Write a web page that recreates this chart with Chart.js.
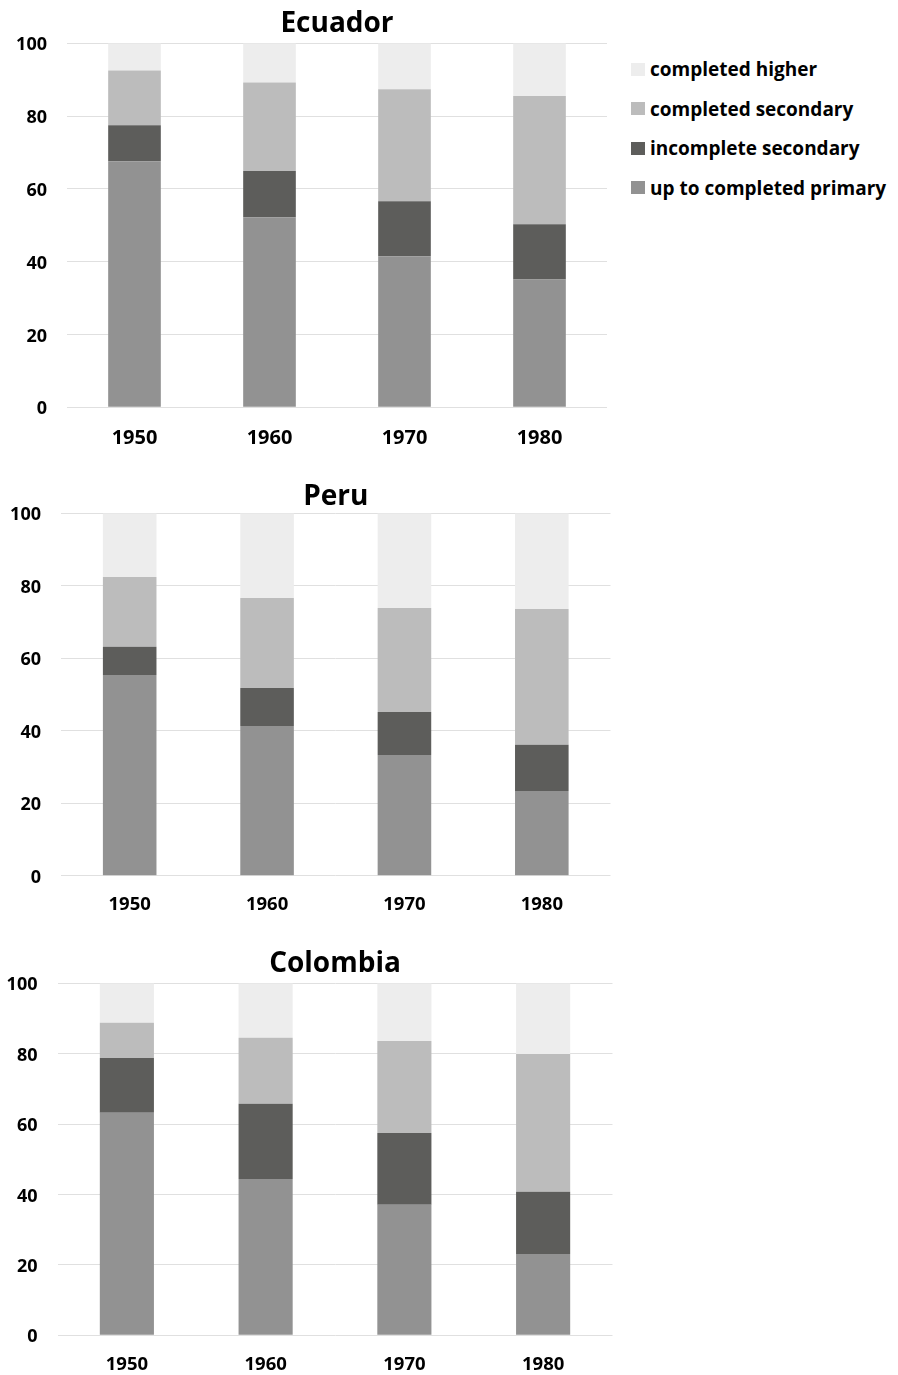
<!DOCTYPE html>
<html>
<head>
<meta charset="utf-8">
<title>Educational attainment</title>
<script src="https://cdn.jsdelivr.net/npm/chart.js@4.4.1/dist/chart.umd.min.js"></script>
<style>
  body { margin: 0; background: #fff; font-family: "Open Sans", sans-serif; }
  #page { position: relative; width: 898px; height: 1375px; overflow: hidden; }
  canvas { position: absolute; left: 0; }
  #legend { position: absolute; left: 631px; top: 0; }
  .item { position: absolute; left: 0; height: 20px; display: flex; align-items: center; white-space: nowrap;
          font-weight: 700; font-size: 19px; color: #000; }
  .box { width: 14px; height: 13px; margin-right: 5px; }
</style>
</head>
<body>
<div id="page">
  <canvas id="ecuador" width="620" height="460" style="top:0"></canvas>
  <canvas id="peru" width="620" height="450" style="top:470px"></canvas>
  <canvas id="colombia" width="620" height="445" style="top:930px"></canvas>
  <div id="legend"></div>
</div>
<script>
// --- data (percent of population by education level)
const years = ['1950', '1960', '1970', '1980'];
const yTicks = [0, 20, 40, 60, 80, 100];

const seriesNames = ['up to completed primary', 'incomplete secondary', 'completed secondary', 'completed higher'];
const seriesColors = ['#929292', '#5d5d5b', '#bcbcbc', '#ededed'];

const ecuadorPrimary = [67.6, 52.2, 41.5, 35.1];
const ecuadorIncomplete = [9.9, 12.7, 15.1, 15.2];
const ecuadorSecondary = [15.0, 24.3, 30.8, 35.2];
const ecuadorHigher = [7.5, 10.8, 12.6, 14.5];

const peruPrimary = [55.4, 41.3, 33.3, 23.4];
const peruIncomplete = [7.8, 10.5, 11.9, 12.7];
const peruSecondary = [19.2, 24.8, 28.7, 37.5];
const peruHigher = [17.6, 23.4, 26.1, 26.4];

const colombiaPrimary = [63.2, 44.4, 37.1, 23.1];
const colombiaIncomplete = [15.6, 21.4, 20.4, 17.7];
const colombiaSecondary = [10.0, 18.7, 26.1, 39.1];
const colombiaHigher = [11.2, 15.5, 16.4, 20.1];

const FONT = "'Open Sans', sans-serif";

function makeChart(id, title, series, lay) {
  new Chart(document.getElementById(id), {
    type: 'bar',
    data: {
      labels: years,
      datasets: series.map((values, i) => ({
        label: seriesNames[i],
        data: values,
        backgroundColor: seriesColors[i],
        borderWidth: 0,
        categoryPercentage: 1,
        barPercentage: 0.39
      }))
    },
    options: {
      responsive: false,
      animation: false,
      layout: { padding: { left: 0, right: lay.right, top: 0, bottom: 0 } },
      scales: {
        x: {
          stacked: true,
          grid: { display: false },
          border: { display: false },
          ticks: { color: '#000', padding: lay.xPad, font: { family: FONT, size: lay.xFont, weight: 'bold' } },
          afterFit: s => { s.height = lay.xHeight; }
        },
        y: {
          stacked: true,
          min: 0,
          max: 100,
          afterBuildTicks: s => { s.ticks = yTicks.map(v => ({ value: v })); },
          grid: { color: '#e0e0e0', lineWidth: 1, drawTicks: false },
          border: { display: false },
          ticks: { color: '#000', padding: 20, labelOffset: 2, font: { family: FONT, size: 18, weight: 'bold' } },
          afterFit: s => { s.width = lay.yWidth; }
        }
      },
      plugins: {
        legend: { display: false },
        tooltip: { enabled: false },
        title: {
          display: true,
          text: title,
          fullSize: false,
          color: '#000',
          font: { family: FONT, size: 28, weight: 'bold', lineHeight: 1 },
          padding: { top: lay.tTop, bottom: lay.tBottom }
        }
      }
    }
  });
}

makeChart('ecuador', 'Ecuador',
  [ecuadorPrimary, ecuadorIncomplete, ecuadorSecondary, ecuadorHigher],
  { yWidth: 67, right: 13, xHeight: 52.7, xPad: 10.5, xFont: 20, tTop: 10, tBottom: 5.3 });

makeChart('peru', 'Peru',
  [peruPrimary, peruIncomplete, peruSecondary, peruHigher],
  { yWidth: 61, right: 9.5, xHeight: 44.3, xPad: 9.5, xFont: 18.5, tTop: 12.7, tBottom: 2.6 });

makeChart('colombia', 'Colombia',
  [colombiaPrimary, colombiaIncomplete, colombiaSecondary, colombiaHigher],
  { yWidth: 57.5, right: 7.5, xHeight: 39.7, xPad: 10, xFont: 18.5, tTop: 20.3, tBottom: 5 });

// legend, top to bottom: highest level first
const legendEl = document.getElementById('legend');
const legendCenters = [69, 108.5, 148, 187.5];
seriesNames.slice().reverse().forEach((name, i) => {
  const color = seriesColors[seriesColors.length - 1 - i];
  legendEl.insertAdjacentHTML('beforeend',
    `<div class="item" style="top:${legendCenters[i] - 10}px"><span class="box" style="background:${color}"></span>${name}</div>`);
});
</script>
</body>
</html>
